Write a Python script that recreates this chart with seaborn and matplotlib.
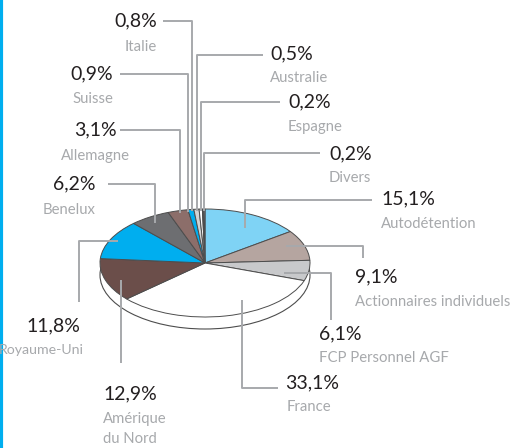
import matplotlib
matplotlib.use('Agg')
import matplotlib.pyplot as plt
import matplotlib.transforms as mtransforms
from matplotlib.patches import Ellipse
import seaborn as sns

# Data
categories = ['Autodétention', 'Actionnaires individuels', 'FCP Personnel AGF', 'France',
              'Amérique\ndu Nord', 'Royaume-Uni', 'Benelux', 'Allemagne', 'Suisse',
              'Italie', 'Australie', 'Espagne', 'Divers']
values = [15.1, 9.1, 6.1, 33.1, 12.9, 11.8, 6.2, 3.1, 0.9, 0.8, 0.5, 0.2, 0.2]
value_labels = ['15,1%', '9,1%', '6,1%', '33,1%', '12,9%', '11,8%', '6,2%', '3,1%',
                '0,9%', '0,8%', '0,5%', '0,2%', '0,2%']
colors = ['#7fd3f5', '#b5a5a0', '#c8c9cb', '#ffffff', '#6b4e4a', '#00aeef', '#6d6e71',
          '#8c6e6a', '#00aeef', '#d1d3d4', '#ffffff', '#414042', '#939598']

sns.set_theme(style='white')
plt.rcParams['font.family'] = ['Lato', 'DejaVu Sans']

fig = plt.figure(figsize=(5.23, 4.48), dpi=100)
ax = fig.add_axes([0, 0, 1, 1])

# ellipse geometry (pixel coords, y downwards)
cx, cy, rx, ry, depth = 205, 263, 105, 54, 12
squash = mtransforms.Affine2D().translate(-cx, -cy).scale(1, ry / rx).translate(cx, cy) + ax.transData

# pie side (thickness)
rim = Ellipse((cx, cy + depth), 2 * rx, 2 * ry, facecolor='white', edgecolor='#4d4d4d',
              lw=0.8, zorder=1)
ax.add_patch(rim)

wedges, _ = ax.pie(values, colors=colors, startangle=-90, counterclock=True,
                   center=(cx, cy), radius=rx, frame=True,
                   wedgeprops=dict(edgecolor='#4d4d4d', linewidth=0.7))
for w in wedges:
    w.set_transform(squash)
    w.set_zorder(2)

# labels: (value x, value y, label x, label y, alignment, leader path)
layout = {
    'Autodétention': (381, 199, 381, 224, 'left', [(245, 228), (245, 200), (372, 200)]),
    'Actionnaires individuels': (355, 277, 355, 302, 'left', [(286, 246), (363, 246), (363, 258)]),
    'FCP Personnel AGF': (319, 334, 319, 358, 'left', [(284, 273), (331, 273), (331, 320)]),
    'France': (285, 383, 287, 407, 'left', [(242, 300), (242, 388), (278, 388)]),
    'Amérique\ndu Nord': (103, 394, 103, 429, 'left', [(121, 280), (121, 363)]),
    'Royaume-Uni': (80, 326, 84, 350, 'right', [(118, 241), (79, 241), (79, 302)]),
    'Benelux': (96, 184, 96, 210, 'right', [(155, 223), (155, 184), (108, 184)]),
    'Allemagne': (95, 130, 95, 156, 'center', [(180, 213), (180, 130), (120, 130)]),
    'Suisse': (113, 74, 113, 99, 'right', [(188, 212), (188, 74), (120, 74)]),
    'Italie': (157, 21, 157, 47, 'right', [(192, 211), (192, 21), (163, 21)]),
    'Australie': (270, 54, 270, 78, 'left', [(197, 211), (197, 55), (263, 55)]),
    'Espagne': (288, 102, 288, 127, 'left', [(201, 211), (201, 102), (280, 102)]),
    'Divers': (329, 154, 329, 178, 'left', [(204, 211), (204, 153), (320, 153)]),
}

for cat, vl in zip(categories, value_labels):
    x, y, lx, ly, ha, path = layout[cat]
    xs, ys = zip(*path)
    ax.plot(xs, ys, color='#a7a9ac', lw=1.4, zorder=3, solid_capstyle='butt')
    ax.text(x, y, vl, ha=ha, va='center', fontsize=14, color='#231f20', zorder=4)
    size = 10.2 if cat == 'Royaume-Uni' else 10.7
    ax.text(lx, ly, cat, ha=ha, va='center', fontsize=size, color='#a7a9ac',
            linespacing=1.55, zorder=4)

# blue frame on the left
ax.axvline(1, color='#00aeef', lw=3)

ax.set_xlim(0, 523)
ax.set_ylim(448, 0)
ax.set_aspect('auto')
ax.axis('off')

fig.savefig('out.png', dpi=100)
